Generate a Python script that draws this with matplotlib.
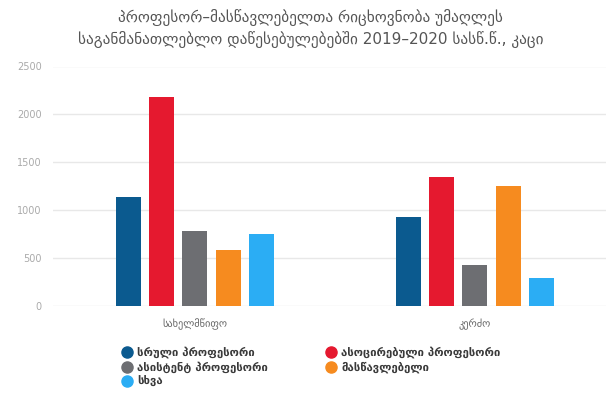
import matplotlib
matplotlib.use("Agg")
import matplotlib.pyplot as plt
from matplotlib.lines import Line2D
import numpy as np

plt.rcParams['font.family'] = ['DejaVu Sans']

title = "პროფესორ–მასწავლებელთა რიცხოვნობა უმაღლეს\nსაგანმანათლებლო დაწესებულებებში 2019–2020 სასწ.წ., კაცი"
categories = ["სახელმწიფო", "კერძო"]
series_names = ["სრული პროფესორი", "ასოცირებული პროფესორი", "ასისტენტ პროფესორი",
                "მასწავლებელი", "სხვა"]
full_prof = [1140, 925]
assoc_prof = [2185, 1345]
assist_prof = [785, 426]
teacher = [586, 1250]
other = [748, 297]
values = [full_prof, assoc_prof, assist_prof, teacher, other]
colors = ["#0b5a8f", "#e5192f", "#6d6e72", "#f68b1f", "#2badf4"]
yticks = [0, 500, 1000, 1500, 2000, 2500]

W, H = 606, 393
fig = plt.figure(figsize=(W / 100, H / 100), dpi=100)
ax = fig.add_axes([53 / W, 1 - 306 / H, 1 - 53 / W, (306 - 66.5) / H])

x = np.arange(len(categories))
step = 0.119
width = 0.089
n = len(values)
for i, (vals, c) in enumerate(zip(values, colors)):
    ax.bar(x + (i - (n - 1) / 2) * step, vals, width=width, color=c, zorder=3)

ax.set_xlim(-0.507, 1.468)
ax.set_ylim(0, 2500)
ax.set_yticks(yticks)
ax.set_yticklabels([str(v) for v in yticks])
ax.set_xticks(x)
ax.set_xticklabels(categories)
ax.grid(axis='y', color='#e8e8e8', linewidth=1, zorder=0)
for s in ax.spines.values():
    s.set_visible(False)
ax.tick_params(axis='y', length=0, labelsize=7, labelcolor='#aaaaaa', pad=8)
ax.tick_params(axis='x', length=0, labelsize=7.5, labelcolor='#666666', pad=9)

fig.text(0.513, 1 - 28.5 / H, title, ha='center', va='center', fontsize=11,
         color='#555555', linespacing=1.45)

order = [0, 2, 4, 1, 3]
handles = [Line2D([], [], marker='o', linestyle='none', markersize=8,
                  markerfacecolor=colors[i], markeredgecolor=colors[i]) for i in order]
labels = [series_names[i] for i in order]
fig.legend(handles, labels, loc='upper left', bbox_to_anchor=(118 / W, 1 - 343 / H),
           ncol=2, frameon=False, handletextpad=0.4,
           columnspacing=5.0, labelspacing=0.28, handlelength=1.0,
           borderaxespad=0, borderpad=0.3,
           prop={'size': 8.2, 'weight': 'bold'}, labelcolor='#3a3a3a')

fig.savefig("out.png", dpi=100, facecolor='white')
